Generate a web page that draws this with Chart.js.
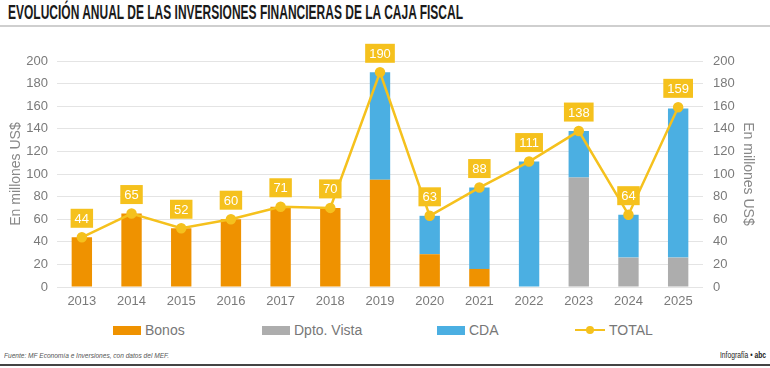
<!DOCTYPE html>
<html lang="es">
<head>
<meta charset="utf-8">
<script src="https://cdn.jsdelivr.net/npm/chart.js@4"></script>
<style>
  html, body { margin: 0; padding: 0; background: #fff; }
  body { width: 770px; height: 368px; position: relative; overflow: hidden; font-family: "Liberation Sans", Arial, sans-serif; }
  .titulo { position: absolute; left: 8px; top: 1px; font-family: "Liberation Sans", Arial, sans-serif; font-weight: bold; font-size: 20px; line-height: 22px; color: #1a1a1a; white-space: nowrap; transform-origin: 0 0; }
  .linea-top { position: absolute; left: 0; top: 25px; width: 770px; height: 2px; background: #cfcfcf; }
  .grafico { position: absolute; left: 0; top: 28px; width: 770px; height: 292px; }
  .leyenda { position: absolute; top: 321px; left: 0; width: 770px; height: 18px; font-size: 14px; color: #777; }
  .item { position: absolute; top: 0; display: flex; align-items: center; height: 18px; }
  .caja { width: 28px; height: 9px; margin-right: 4px; }
  .linea-ley { width: 30px; height: 10px; margin-right: 4px; position: relative; }
  .linea-ley::before { content: ""; position: absolute; left: 0; right: 0; top: 4px; height: 2px; background: #f5c11d; }
  .linea-ley::after { content: ""; position: absolute; left: 11px; top: 1px; width: 8px; height: 8px; border-radius: 50%; background: #f5c11d; }
  .fuente { position: absolute; left: 4px; top: 351px; font-family: "Liberation Sans", sans-serif; font-style: italic; font-size: 8px; color: #555; white-space: nowrap; transform-origin: 0 0; }
  .firma { position: absolute; left: 720px; top: 350px; font-family: "Liberation Sans", sans-serif; font-size: 9px; color: #222; white-space: nowrap; transform-origin: 0 0; }
  .firma b { font-weight: 900; }
  .linea-bottom { position: absolute; left: 0; top: 364px; width: 770px; height: 2px; background: #444; }
</style>
</head>
<body>
<div class="titulo" data-w="455">EVOLUCIÓN ANUAL DE LAS INVERSIONES FINANCIERAS DE LA CAJA FISCAL</div>
<div class="linea-top"></div>
<div class="grafico"><canvas id="chart"></canvas></div>
<div class="leyenda">
  <div class="item" style="left:113px"><span class="caja" style="background:#ef9200"></span>Bonos</div>
  <div class="item" style="left:262px"><span class="caja" style="background:#adadad"></span>Dpto. Vista</div>
  <div class="item" style="left:437px"><span class="caja" style="background:#4bafe2"></span>CDA</div>
  <div class="item" style="left:575px"><span class="linea-ley"></span>TOTAL</div>
</div>
<div class="fuente" data-w="165">Fuente: MF Economía e Inversiones, con datos del MEF.</div>
<div class="firma" data-w="46">Infografía • <b>abc</b></div>
<div class="linea-bottom"></div>
<script>
// Data
const years = ['2013', '2014', '2015', '2016', '2017', '2018', '2019', '2020', '2021', '2022', '2023', '2024', '2025'];
const bonos = [44, 65, 52, 60, 71, 70, 95, 29, 16, 0, 0, 0, 0];
const dptoVista = [0, 0, 0, 0, 0, 0, 0, 0, 0, 0, 97, 26, 26];
const cda = [0, 0, 0, 0, 0, 0, 95, 34, 72, 111, 41, 38, 132];
const total = [44, 65, 52, 60, 71, 70, 190, 63, 88, 111, 138, 64, 159];

// Colors
const colors = {
    bonos: '#ef9200',
    vista: '#adadad',
    cda: '#4bafe2',
    total: '#f5c11d',
    tick: '#7a7a7a',
    grid: '#e4e4e4'
};

// Squeeze condensed texts to the width they have in the original
document.querySelectorAll('[data-w]').forEach(el => {
    const target = Number(el.dataset.w);
    const w = el.getBoundingClientRect().width;
    el.style.transform = `scaleX(${target / w})`;
});

// Yellow value boxes above the TOTAL points
const totalLabels = {
    id: 'totalLabels',
    afterDatasetsDraw(chart) {
        const meta = chart.getDatasetMeta(3);
        const ctx = chart.ctx;
        ctx.save();
        ctx.font = '13px "Liberation Sans", Arial, sans-serif';
        ctx.textAlign = 'center';
        ctx.textBaseline = 'middle';
        meta.data.forEach((pt, i) => {
            const text = String(total[i]);
            const w = ctx.measureText(text).width + 8;
            const h = 19;
            const cy = pt.y - 19;
            ctx.fillStyle = colors.total;
            ctx.fillRect(pt.x - w / 2, cy - h / 2, w, h);
            ctx.fillStyle = '#ffffff';
            ctx.fillText(text, pt.x, cy + 1);
        });
        ctx.restore();
    }
};

const ctx = document.getElementById('chart').getContext('2d');

new Chart(ctx, {
    data: {
        labels: years,
        datasets: [
            { type: 'bar', label: 'Bonos', data: bonos, backgroundColor: colors.bonos, stack: 's', order: 2 },
            { type: 'bar', label: 'Dpto. Vista', data: dptoVista, backgroundColor: colors.vista, stack: 's', order: 2 },
            { type: 'bar', label: 'CDA', data: cda, backgroundColor: colors.cda, stack: 's', order: 2 },
            {
                type: 'line',
                label: 'TOTAL',
                data: total,
                borderColor: colors.total,
                backgroundColor: colors.total,
                borderWidth: 2.5,
                pointRadius: 4,
                pointHoverRadius: 4,
                tension: 0,
                order: 1
            }
        ]
    },
    options: {
        responsive: true,
        maintainAspectRatio: false,
        animation: false,
        layout: { padding: { top: 33, left: 0, right: 0, bottom: 0 } },
        datasets: {
            bar: { barPercentage: 0.41, categoryPercentage: 1, borderWidth: 0 }
        },
        plugins: {
            legend: { display: false },
            tooltip: { enabled: false }
        },
        scales: {
            x: {
                stacked: true,
                grid: { display: false, drawTicks: false },
                border: { display: false },
                ticks: { color: colors.tick, font: { size: 13, family: '"Liberation Sans", Arial, sans-serif' }, padding: 7, maxRotation: 0 },
                afterFit(scale) { scale.height = 33; }
            },
            y: {
                stacked: true,
                position: 'left',
                min: 0,
                max: 200,
                ticks: { stepSize: 20, color: colors.tick, padding: 9, font: { size: 13, family: '"Liberation Sans", Arial, sans-serif' } },
                grid: { color: colors.grid, drawTicks: false },
                border: { display: false },
                title: { display: true, text: 'En millones US$', color: '#888', padding: { top: 8, bottom: 0 }, font: { size: 14, family: '"Liberation Sans", Arial, sans-serif' } },
                afterFit(scale) { scale.width = 57; }
            },
            y2: {
                position: 'right',
                min: 0,
                max: 200,
                ticks: { stepSize: 20, color: colors.tick, padding: 10, font: { size: 13, family: '"Liberation Sans", Arial, sans-serif' } },
                grid: { display: false, drawTicks: false },
                border: { display: false },
                title: { display: true, text: 'En millones US$', color: '#888', padding: { top: 14, bottom: 0 }, font: { size: 14, family: '"Liberation Sans", Arial, sans-serif' } },
                afterFit(scale) { scale.width = 67; }
            }
        }
    },
    plugins: [totalLabels]
});
</script>
</body>
</html>
